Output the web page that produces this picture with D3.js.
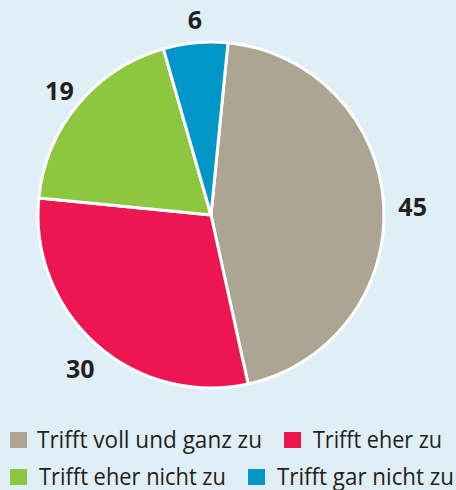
<!DOCTYPE html>
<html>
<head>
<meta charset="utf-8">
<script src="https://cdn.jsdelivr.net/npm/d3@7"></script>
<style>
  body { margin: 0; background: #e0eef6; }
</style>
</head>
<body>
<div id="chart"></div>
<script>
// data
var categories = ["Trifft voll und ganz zu", "Trifft eher zu", "Trifft eher nicht zu", "Trifft gar nicht zu"];
var values = [45, 30, 19, 6];
var colors = ["#ada594", "#ee1650", "#8dc63f", "#0096c8"];

var width = 456, height = 490;
var cx = 211, cy = 215, radius = 173;

var svg = d3.select("#chart")
    .append("svg")
    .attr("width", width)
    .attr("height", height);

svg.append("rect")
    .attr("width", width)
    .attr("height", height)
    .attr("fill", "#e0eef6");

var g = svg.append("g")
    .attr("transform", "translate(" + cx + "," + cy + ")");

// pie starts a little right of twelve o'clock
var pie = d3.pie()
    .sort(null)
    .startAngle(0.098)
    .endAngle(0.098 + 2 * Math.PI)
    .value(function(d) { return d; });

var arc = d3.arc().innerRadius(0).outerRadius(radius);
var labelArc = d3.arc().innerRadius(200).outerRadius(200);

var arcs = pie(values);

g.selectAll("path.slice")
    .data(arcs)
    .enter()
    .append("path")
    .attr("class", "slice")
    .attr("d", arc)
    .attr("fill", function(d, i) { return colors[i]; })
    .attr("stroke", "#ffffff")
    .attr("stroke-width", 3)
    .attr("stroke-linejoin", "round");

// value labels
g.selectAll("text.val")
    .data(arcs)
    .enter()
    .append("text")
    .attr("class", "val")
    .attr("x", function(d) { return labelArc.centroid(d)[0] + 2; })
    .attr("y", function(d) { return labelArc.centroid(d)[1] + 4; })
    .attr("text-anchor", "middle")
    .attr("dy", "0.36em")
    .attr("font-family", "'Open Sans', sans-serif")
    .attr("font-weight", "bold")
    .attr("font-size", 25)
    .attr("fill", "#231f20")
    .text(function(d) { return d.data; });

// legend, two rows
var legendPos = [
    {x: 10, y: 440, w: 225},
    {x: 284, y: 440, w: 129},
    {x: 10, y: 477, w: 187},
    {x: 248, y: 477, w: 177}
];

var legend = svg.selectAll("g.leg")
    .data(categories)
    .enter()
    .append("g")
    .attr("class", "leg")
    .attr("transform", function(d, i) { return "translate(" + legendPos[i].x + "," + legendPos[i].y + ")"; });

legend.append("rect")
    .attr("x", 0)
    .attr("y", -8)
    .attr("width", 17)
    .attr("height", 16)
    .attr("fill", function(d, i) { return colors[i]; });

legend.append("text")
    .attr("x", function(d, i) { return i == 0 ? 27 : 29; })
    .attr("y", 0)
    .attr("dy", "0.35em")
    .attr("font-family", "'Open Sans', sans-serif")
    .attr("font-size", 23)
    .attr("textLength", function(d, i) { return legendPos[i].w; })
    .attr("lengthAdjust", "spacingAndGlyphs")
    .attr("fill", "#231f20")
    .text(function(d) { return d; });
</script>
</body>
</html>
